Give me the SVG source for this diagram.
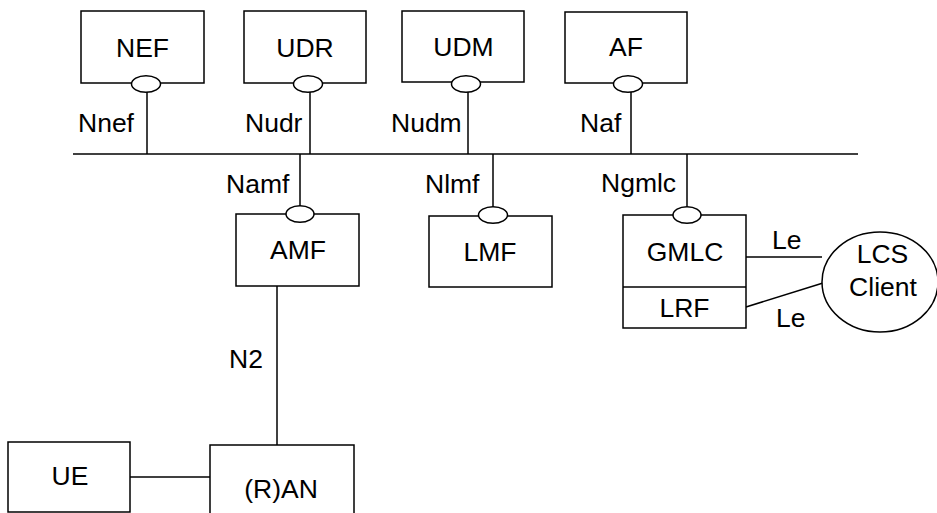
<svg xmlns="http://www.w3.org/2000/svg" width="937" height="513" viewBox="0 0 937 513">
<style>
.box{fill:#fff;stroke:#000;stroke-width:1.5}
.port{fill:#fff;stroke:#000;stroke-width:1.5}
.ln{stroke:#000;stroke-width:1.5;fill:none}
text{font-family:"Liberation Sans",Arial,sans-serif;fill:#000}
.nl{font-size:26.5px;text-anchor:middle}
.il{font-size:26.5px}
</style>
<rect width="937" height="513" fill="#fff"/>
<g id="connectors">
<line class="ln" x1="73" y1="154" x2="858" y2="154"/>
<line class="ln" x1="147" y1="92" x2="147" y2="154"/>
<line class="ln" x1="310" y1="92" x2="310" y2="154"/>
<line class="ln" x1="468" y1="92" x2="468" y2="154"/>
<line class="ln" x1="631" y1="92" x2="631" y2="154"/>
<line class="ln" x1="300" y1="154" x2="300" y2="207"/>
<line class="ln" x1="493" y1="154" x2="493" y2="207"/>
<line class="ln" x1="687" y1="154" x2="687" y2="207"/>
<line class="ln" x1="277" y1="286" x2="277" y2="445"/>
<line class="ln" x1="130" y1="477" x2="210" y2="477"/>
<line class="ln" x1="746" y1="257" x2="822" y2="257"/>
<line class="ln" x1="746" y1="307" x2="823" y2="283"/>
<text class="il" x="78" y="132">Nnef</text>
<text class="il" x="245" y="132">Nudr</text>
<text class="il" x="391" y="132">Nudm</text>
<text class="il" x="580" y="132">Naf</text>
<text class="il" x="226" y="193">Namf</text>
<text class="il" x="425" y="193">Nlmf</text>
<text class="il" x="601" y="192">Ngmlc</text>
<text class="il" x="772" y="249">Le</text>
<text class="il" x="776" y="327">Le</text>
<text class="il" x="229" y="368">N2</text>
</g>
<g id="NEF">
<rect class="box" x="81" y="11" width="123" height="72"/>
<ellipse class="port" cx="146" cy="84" rx="14.5" ry="8.3"/>
<text class="nl" x="142.5" y="57">NEF</text>
</g>
<g id="UDR">
<rect class="box" x="244" y="11" width="122" height="72"/>
<ellipse class="port" cx="308" cy="84" rx="14.5" ry="8.3"/>
<text class="nl" x="305" y="57">UDR</text>
</g>
<g id="UDM">
<rect class="box" x="402" y="11" width="122" height="71"/>
<ellipse class="port" cx="466" cy="84" rx="14.5" ry="8.3"/>
<text class="nl" x="463.5" y="56">UDM</text>
</g>
<g id="AF">
<rect class="box" x="565" y="12" width="122" height="71"/>
<ellipse class="port" cx="628" cy="84" rx="14.5" ry="8.3"/>
<text class="nl" x="626" y="56">AF</text>
</g>
<g id="AMF">
<rect class="box" x="236" y="214" width="123" height="72"/>
<ellipse class="port" cx="300" cy="214" rx="14" ry="8.3"/>
<text class="nl" x="298" y="259">AMF</text>
</g>
<g id="LMF">
<rect class="box" x="429" y="216" width="123" height="71"/>
<ellipse class="port" cx="493" cy="215" rx="14.5" ry="8.3"/>
<text class="nl" x="490" y="261">LMF</text>
</g>
<g id="GMLC">
<rect class="box" x="623" y="215" width="123" height="113"/>
<line class="ln" x1="623" y1="287" x2="746" y2="287"/>
<ellipse class="port" cx="687" cy="215" rx="14" ry="8.3"/>
<text class="nl" x="685" y="261">GMLC</text>
<text class="nl" x="684.5" y="317">LRF</text>
</g>
<g id="LCSClient">
<ellipse class="box" cx="880" cy="282" rx="58" ry="50"/>
<text class="nl" x="882.5" y="263">LCS</text>
<text class="nl" x="883" y="296">Client</text>
</g>
<g id="UE">
<rect class="box" x="8" y="442" width="122" height="70"/>
<text class="nl" x="70" y="485">UE</text>
</g>
<g id="RAN">
<rect class="box" x="210" y="445" width="144" height="80"/>
<text class="nl" x="281" y="498">(R)AN</text>
</g>
</svg>
